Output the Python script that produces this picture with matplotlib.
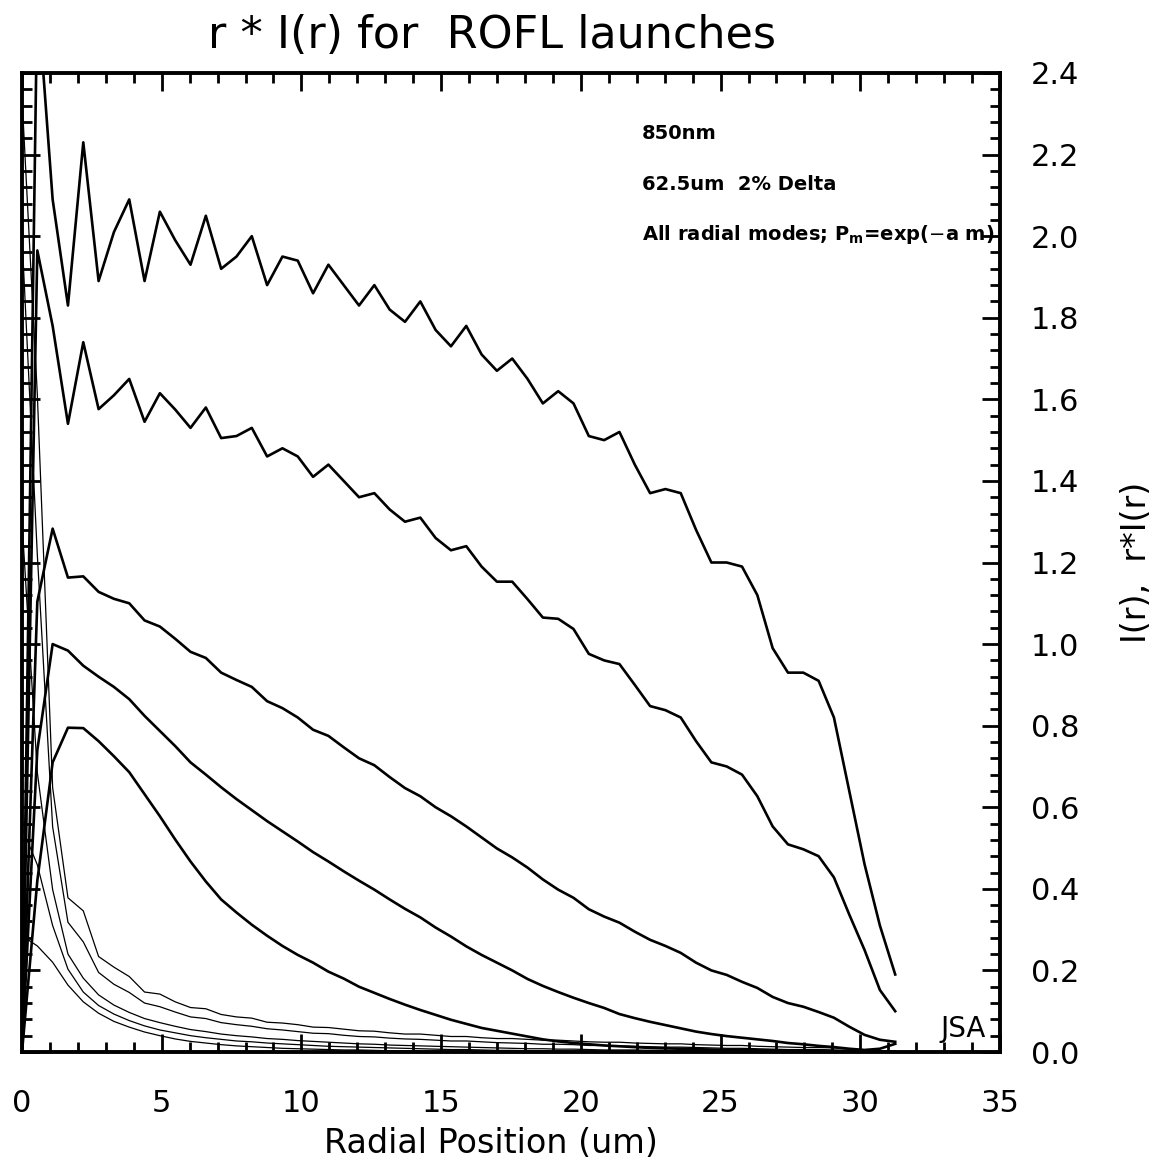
import numpy as np
import matplotlib
matplotlib.use('Agg')
import matplotlib.pyplot as plt
from matplotlib.ticker import MultipleLocator, FormatStrFormatter

# radial sample positions (um), 58 samples out to the core radius
radius = np.linspace(0.0, 31.25, 58)

# r*I(r) for the five launches (thick lines)
ri_1 = [0.0, 2.60, 2.09, 1.83, 2.23, 1.89, 2.01, 2.09, 1.89, 2.06,
        1.99, 1.93, 2.05, 1.92, 1.95, 2.00, 1.88, 1.95, 1.94, 1.86,
        1.93, 1.88, 1.83, 1.88, 1.82, 1.79, 1.84, 1.77, 1.73, 1.78,
        1.71, 1.67, 1.70, 1.65, 1.59, 1.62, 1.59, 1.51, 1.50, 1.52,
        1.44, 1.37, 1.38, 1.37, 1.28, 1.20, 1.20, 1.19, 1.12, 0.99,
        0.93, 0.93, 0.91, 0.82, 0.64, 0.46, 0.31, 0.19]
ri_2 = [0.0, 1.965, 1.78, 1.54, 1.74, 1.576, 1.61, 1.65, 1.545, 1.615,
        1.575, 1.53, 1.58, 1.505, 1.51, 1.53, 1.46, 1.48, 1.46, 1.41,
        1.44, 1.40, 1.36, 1.37, 1.33, 1.30, 1.31, 1.26, 1.23, 1.24,
        1.19, 1.153, 1.153, 1.11, 1.065, 1.062, 1.037, 0.976, 0.96, 0.951,
        0.90, 0.848, 0.838, 0.82, 0.762, 0.71, 0.70, 0.68, 0.627, 0.553,
        0.509, 0.497, 0.48, 0.428, 0.337, 0.25, 0.152, 0.10]
ri_3 = [0.0, 1.104, 1.283, 1.163, 1.166, 1.128, 1.111, 1.10, 1.058, 1.043,
        1.013, 0.981, 0.966, 0.93, 0.912, 0.895, 0.86, 0.843, 0.82, 0.79,
        0.775, 0.747, 0.72, 0.703, 0.674, 0.647, 0.627, 0.60, 0.578, 0.553,
        0.526, 0.499, 0.477, 0.452, 0.423, 0.398, 0.378, 0.35, 0.332, 0.317,
        0.295, 0.275, 0.26, 0.243, 0.219, 0.20, 0.189, 0.172, 0.157, 0.135,
        0.12, 0.111, 0.098, 0.084, 0.062, 0.042, 0.03, 0.025]
ri_4 = [0.0, 0.74, 1.00, 0.984, 0.947, 0.92, 0.895, 0.865, 0.824, 0.787,
        0.75, 0.71, 0.68, 0.649, 0.62, 0.593, 0.566, 0.541, 0.516, 0.49,
        0.467, 0.443, 0.42, 0.398, 0.374, 0.351, 0.33, 0.305, 0.283, 0.259,
        0.238, 0.219, 0.20, 0.179, 0.162, 0.147, 0.133, 0.12, 0.108, 0.093,
        0.083, 0.074, 0.066, 0.058, 0.05, 0.044, 0.039, 0.035, 0.031, 0.027,
        0.022, 0.019, 0.015, 0.012, 0.008, 0.005, 0.008, 0.02]
ri_5 = [0.0, 0.42, 0.71, 0.795, 0.794, 0.762, 0.725, 0.686, 0.632, 0.578,
        0.521, 0.467, 0.418, 0.374, 0.342, 0.312, 0.285, 0.26, 0.238, 0.219,
        0.197, 0.18, 0.16, 0.145, 0.13, 0.116, 0.103, 0.091, 0.079, 0.069,
        0.059, 0.052, 0.045, 0.038, 0.031, 0.026, 0.022, 0.019, 0.016, 0.014,
        0.012, 0.010, 0.009, 0.008, 0.007, 0.006, 0.005, 0.005, 0.004, 0.004,
        0.003, 0.003, 0.003, 0.002, 0.002, 0.002, 0.001, 0.001]

# I(r) for the same launches (thin lines)
i_1 = [2.34, 1.612, 0.648, 0.378, 0.346, 0.234, 0.208, 0.185, 0.147, 0.142,
       0.123, 0.109, 0.106, 0.092, 0.086, 0.083, 0.073, 0.071, 0.067, 0.061,
       0.060, 0.056, 0.052, 0.051, 0.047, 0.044, 0.044, 0.041, 0.038, 0.038,
       0.035, 0.033, 0.033, 0.031, 0.029, 0.029, 0.027, 0.025, 0.024, 0.024,
       0.022, 0.021, 0.020, 0.020, 0.018, 0.017, 0.016, 0.016, 0.014, 0.013,
       0.012, 0.011, 0.011, 0.010, 0.007, 0.005, 0.003, 0.002]
i_2 = [2.00, 1.219, 0.552, 0.318, 0.270, 0.195, 0.166, 0.146, 0.120, 0.111,
       0.098, 0.086, 0.082, 0.072, 0.067, 0.063, 0.057, 0.054, 0.050, 0.046,
       0.045, 0.041, 0.038, 0.037, 0.034, 0.032, 0.031, 0.029, 0.027, 0.027,
       0.025, 0.023, 0.022, 0.021, 0.019, 0.019, 0.018, 0.016, 0.016, 0.015,
       0.014, 0.013, 0.012, 0.012, 0.011, 0.010, 0.009, 0.009, 0.008, 0.007,
       0.006, 0.006, 0.006, 0.005, 0.004, 0.003, 0.002, 0.001]
i_3 = [1.30, 0.685, 0.398, 0.240, 0.181, 0.140, 0.115, 0.097, 0.082, 0.072,
       0.063, 0.055, 0.050, 0.044, 0.040, 0.037, 0.033, 0.031, 0.028, 0.026,
       0.024, 0.022, 0.020, 0.019, 0.017, 0.016, 0.015, 0.014, 0.013, 0.012,
       0.011, 0.010, 0.009, 0.008, 0.008, 0.007, 0.007, 0.006, 0.005, 0.005,
       0.005, 0.004, 0.004, 0.004, 0.003, 0.003, 0.003, 0.002, 0.002, 0.002,
       0.001, 0.001, 0.001, 0.001, 0.001, 0.0, 0.0, 0.0]
i_4 = [0.55, 0.459, 0.310, 0.203, 0.147, 0.114, 0.093, 0.077, 0.064, 0.054,
       0.047, 0.040, 0.035, 0.031, 0.027, 0.025, 0.022, 0.020, 0.018, 0.016,
       0.014, 0.013, 0.012, 0.011, 0.010, 0.009, 0.008, 0.007, 0.006, 0.006,
       0.005, 0.004, 0.004, 0.003, 0.003, 0.003, 0.002, 0.002, 0.002, 0.002,
       0.001, 0.001, 0.001, 0.001, 0.001, 0.001, 0.001, 0.0, 0.0, 0.0,
       0.0, 0.0, 0.0, 0.0, 0.0, 0.0, 0.0, 0.0]
i_5 = [0.285, 0.26, 0.220, 0.164, 0.123, 0.095, 0.075, 0.061, 0.049, 0.040,
       0.032, 0.026, 0.022, 0.018, 0.015, 0.013, 0.011, 0.009, 0.008, 0.007,
       0.006, 0.005, 0.005, 0.004, 0.003, 0.003, 0.002, 0.002, 0.002, 0.002,
       0.001, 0.001, 0.001, 0.001, 0.0, 0.0, 0.0, 0.0, 0.0, 0.0,
       0.0, 0.0, 0.0, 0.0, 0.0, 0.0, 0.0, 0.0, 0.0, 0.0,
       0.0, 0.0, 0.0, 0.0, 0.0, 0.0, 0.0, 0.0]

x_ticks = [0, 5, 10, 15, 20, 25, 30, 35]
y_ticks = [0.0, 0.2, 0.4, 0.6, 0.8, 1.0, 1.2, 1.4, 1.6, 1.8, 2.0, 2.2, 2.4]


def main():
    plt.rcParams['font.family'] = ['DejaVu Sans']

    fig = plt.figure(figsize=(11.52, 11.73), dpi=100)
    ax = fig.add_axes([22 / 1152, 121 / 1173, 978 / 1152, 979 / 1173])

    # thin lines: I(r)
    for y in (i_1, i_2, i_3, i_4, i_5):
        ax.plot(radius, y, color='black', lw=0.9)
    # thick lines: r*I(r)
    for y in (ri_1, ri_2, ri_3, ri_4, ri_5):
        ax.plot(radius, y, color='black', lw=1.9)

    ax.set_xlim(0, 35)
    ax.set_ylim(0, 2.4)
    ax.set_xticks(x_ticks)
    ax.set_yticks(y_ticks)
    ax.xaxis.set_minor_locator(MultipleLocator(1))
    ax.yaxis.set_minor_locator(MultipleLocator(0.04))
    ax.yaxis.set_major_formatter(FormatStrFormatter('%.1f'))

    ax.tick_params(which='both', direction='in', top=True, right=True,
                   left=True, bottom=True, labelleft=False, labelright=True,
                   width=2.0, colors='black')
    ax.tick_params(which='major', length=13)
    ax.tick_params(which='minor', length=7)
    ax.tick_params(axis='x', labelsize=22, pad=27)
    ax.tick_params(axis='y', labelsize=22, pad=22)
    for s in ax.spines.values():
        s.set_linewidth(2.8)

    # axis titles placed where the original has them
    fig.text(491 / 1152, 1 - 1153 / 1173, 'Radial Position (um)',
             fontsize=24, ha='center', va='baseline')
    fig.text(1136 / 1152, 1 - 562 / 1173, 'I(r),  r*I(r)',
             fontsize=24, rotation=90, ha='center', va='center')

    fig.text(492 / 1152, 1 - 48 / 1173, 'r * I(r) for  ROFL launches',
             fontsize=32, ha='center', va='baseline')

    ax.text(0.634, 0.9326, '850nm', transform=ax.transAxes,
            fontsize=14, fontweight='bold')
    ax.text(0.634, 0.8805, '62.5um  2% Delta', transform=ax.transAxes,
            fontsize=14, fontweight='bold')
    ax.text(0.634, 0.8294, r'All radial modes; P$_\mathregular{m}$=exp($-$a m)',
            transform=ax.transAxes, fontsize=14, fontweight='bold')
    ax.text(0.985, 0.0153, 'JSA', transform=ax.transAxes,
            fontsize=20, ha='right', va='baseline')

    fig.savefig('out.png', dpi=100)


if __name__ == '__main__':
    main()
